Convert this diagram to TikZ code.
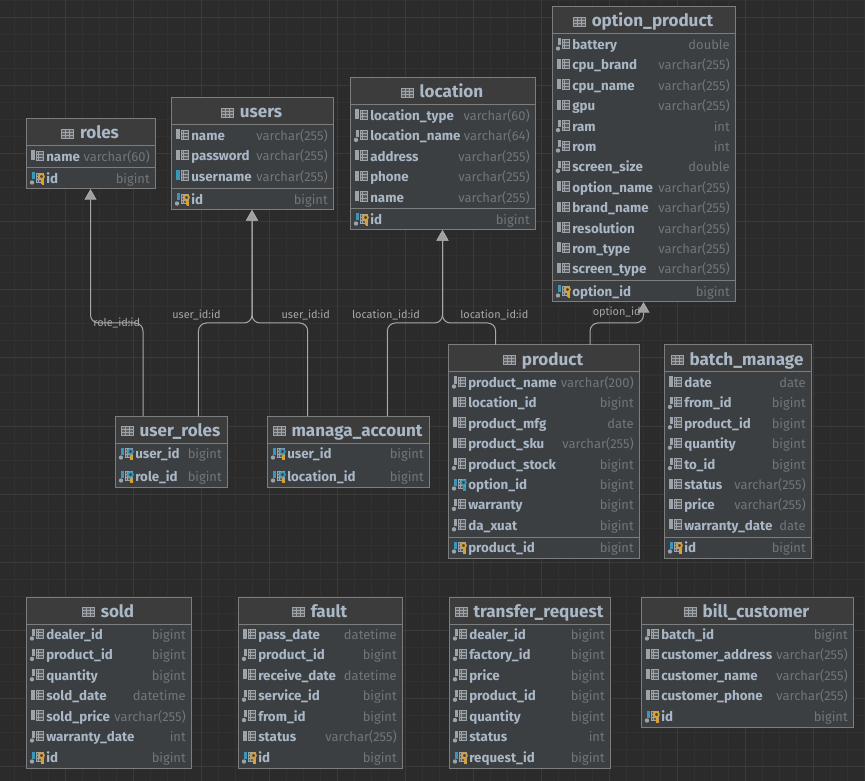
\documentclass[tikz,border=0pt]{standalone}
\usepackage{fontspec}
\setmainfont{Fira Sans}
\usetikzlibrary{arrows.meta, positioning}
\definecolor{canvasbg}{HTML}{2B2B2B}
\definecolor{gridminor}{HTML}{313131}
\definecolor{gridmajor}{HTML}{3A3A3A}
\definecolor{headbg}{HTML}{3C3C3C}
\definecolor{bodybg}{HTML}{3C3F41}
\definecolor{edgegrey}{HTML}{7D7D7D}
\definecolor{namecol}{HTML}{A9B7C6}
\definecolor{typecol}{HTML}{72767A}
\definecolor{iconcol}{HTML}{9DA3A8}
\definecolor{iconblue}{HTML}{3B97B8}
\definecolor{keygold}{HTML}{D9A033}
\definecolor{linkcol}{HTML}{A8A8A8}
\tikzstyle{tablebox} = [rectangle, anchor=north west, inner sep=0pt, outer sep=0pt, line width=0.75pt, draw=edgegrey, fill=bodybg]
\tikzstyle{headbox} = [line width=0.75pt, draw=edgegrey, fill=headbg]
\tikzstyle{rowline} = [line width=0.75pt, draw=edgegrey]
\tikzstyle{noline} = [draw=none]
\tikzstyle{titletext} = [inner sep=0pt, text=namecol, font=\fontsize{12.8pt}{15pt}\selectfont\bfseries]
\tikzstyle{coltext} = [inner sep=0pt, text=namecol, font=\fontsize{10pt}{12pt}\selectfont\bfseries]
\tikzstyle{typetext} = [inner sep=0pt, text=typecol, font=\fontsize{9.7pt}{12pt}\selectfont]
\tikzstyle{linktext} = [inner sep=2pt, text=linkcol, font=\fontsize{8.2pt}{10pt}\selectfont]
\tikzstyle{link} = [line width=0.75pt, draw=linkcol, rounded corners=6pt, -{Triangle[width=9pt,length=8pt,fill=linkcol!110!white]}]
% Column icons, drawn around the middle of their row
\newcommand{\iconcells}{%
  \draw[iconcol, line width=0.7pt, fill=iconcol!30!bodybg] (5,-5.5) rectangle (12.5,4);
  \draw[iconcol, line width=0.7pt] (5,-2.3) -- (12.5,-2.3) (5,0.9) -- (12.5,0.9) (7.5,-5.5) -- (7.5,4);
}
\newcommand{\icona}{\iconcells\fill[iconcol] (0,-6) rectangle (3.8,4);}
\newcommand{\iconu}{\iconcells\fill[iconblue] (0,-6) rectangle (3.8,4);}
\newcommand{\iconn}{\iconcells\fill[iconcol] (0.5,-6) rectangle (3.8,1);\fill[iconcol] (1,4) circle (2.2);}
\newcommand{\iconkey}[2]{%
  \draw[#2, line width=1.5pt] (10.5,-1) -- (10.5,6) (10.5,3) -- (13,3) (10.5,5.5) -- (13,5.5);
  \draw[#1, line width=1.3pt, fill=bodybg] (10.5,-2) circle (2.4);
}
\newcommand{\iconk}{\iconcells\fill[iconblue] (0.5,-6) rectangle (3.8,1);\fill[iconcol] (1,4) circle (2.2);\iconkey{keygold}{keygold}}
\newcommand{\iconf}{\iconcells\fill[iconblue] (0.5,-6) rectangle (3.8,1);\fill[iconcol] (1,4) circle (2.2);\iconkey{iconblue}{iconblue}}
\newcommand{\iconm}{\iconcells\fill[iconblue] (0.5,-6) rectangle (3.8,1);\fill[iconcol] (1,4) circle (2.2);\iconkey{iconblue}{keygold}}
% table, row number, row offset, kind, column, type
\newcommand{\errow}[6]{%
  \begin{scope}[shift={([shift={(5,#3)}]#1.north west)}]
    \csname icon#4\endcsname
  \end{scope}
  \node[coltext, anchor=base west] (#1-#2-col) at ([shift={(20,{#3+5})}]#1.north west) {#5};
  \node[typetext, anchor=base east] (#1-#2-type) at ([shift={(-5,{#3+5})}]#1.north east) {#6};
}
% [line above last row], name, placement, width, height, title, rows, last row
\newcommand{\ertable}[8][rowline]{%
  \node[tablebox, minimum width={#4*0.75pt}, minimum height={#5*0.75pt}, #3] (#2) {};
  \draw[headbox] (#2.north west) rectangle ([shift={(0,27)}]#2.north east);
  \draw[#1] ([shift={(0,{#5-21})}]#2.north west) -- ([shift={(0,{#5-21})}]#2.north east);
  \node[titletext, anchor=base] (#2-title) at ([shift={({#4/2+9},20)}]#2.north west) {#6};
  \draw[iconcol, line width=0.6pt, fill=iconcol!35!headbg] ([shift={(-18,-10)}]#2-title.base west) rectangle ([shift={(-6,-1)}]#2-title.base west);
  \draw[iconcol, line width=0.5pt] ([shift={(-18,-7)}]#2-title.base west) -- ([shift={(-6,-7)}]#2-title.base west)
    ([shift={(-18,-4)}]#2-title.base west) -- ([shift={(-6,-4)}]#2-title.base west)
    ([shift={(-14,-10)}]#2-title.base west) -- ([shift={(-14,-1)}]#2-title.base west)
    ([shift={(-10,-10)}]#2-title.base west) -- ([shift={(-10,-1)}]#2-title.base west);
  \foreach \kind/\col/\typ [count=\i] in {#7} {
    \pgfmathsetmacro{\rowy}{37.5+20.4*(\i-1)}
    \errow{#2}{\i}{\rowy}{\kind}{\col}{\typ}
  }
  \foreach \kind/\col/\typ in {#8} {
    \pgfmathsetmacro{\rowy}{#5-10.5}
    \errow{#2}{last}{\rowy}{\kind}{\col}{\typ}
  }
}
\begin{document}
\begin{tikzpicture}[x=0.75pt, y=-0.75pt]
        \useasboundingbox (0,0) rectangle (865,781);
        \fill[canvasbg] (0,0) rectangle (865,781);
        \foreach \i in {1,...,51} {
            \draw[gridminor, line width=0.75pt] ({-3+17*\i},0) -- ({-3+17*\i},781);
        }
        \foreach \i in {0,...,45} {
            \draw[gridminor, line width=0.75pt] (0,{1+17*\i}) -- (865,{1+17*\i});
        }
        \foreach \i in {1,...,12} {
            \draw[gridmajor, line width=0.75pt] ({-3+68*\i},0) -- ({-3+68*\i},781);
        }
        \foreach \i in {0,...,11} {
            \draw[gridmajor, line width=0.75pt] (0,{18+68*\i}) -- (865,{18+68*\i});
        }

        % Nodes
        \ertable{roles}{at={(26,119)}}{129}{70}{roles}{a/name/varchar(60)}{k/id/bigint}
        \ertable{users}{at={(171,98)}}{162}{112}{users}{a/name/varchar(255), a/password/varchar(255), u/username/varchar(255)}{k/id/bigint}
        \ertable{location}{at={(350,78)}}{185}{152}{location}{a/location\_type/varchar(60), n/location\_name/varchar(64), a/address/varchar(255), a/phone/varchar(255), a/name/varchar(255)}{k/id/bigint}
        \ertable{option_product}{at={(552,7)}}{183}{295}{option\_product}{n/battery/double, a/cpu\_brand/varchar(255), a/cpu\_name/varchar(255), a/gpu/varchar(255), n/ram/int, n/rom/int, n/screen\_size/double, a/option\_name/varchar(255), a/brand\_name/varchar(255), a/resolution/varchar(255), a/rom\_type/varchar(255), a/screen\_type/varchar(255)}{k/option\_id/bigint}
        \ertable{product}{at={(448,345)}}{191}{213}{product}{n/product\_name/varchar(200), a/location\_id/bigint, a/product\_mfg/date, a/product\_sku/varchar(255), n/product\_stock/bigint, f/option\_id/bigint, n/warranty/bigint, n/da\_xuat/bigint}{k/product\_id/bigint}
        \ertable{batch_manage}{right=18.75pt of product}{147}{213}{batch\_manage}{a/date/date, n/from\_id/bigint, n/product\_id/bigint, n/quantity/bigint, n/to\_id/bigint, a/status/varchar(255), a/price/varchar(255), a/warranty\_date/date}{k/id/bigint}
        \ertable[noline]{user_roles}{at={(115,416)}}{112}{71}{user\_roles}{m/user\_id/bigint}{m/role\_id/bigint}
        \ertable[noline]{managa_account}{right=30pt of user_roles}{162}{71}{managa\_account}{m/user\_id/bigint}{m/location\_id/bigint}
        \ertable[noline]{sold}{at={(26,597)}}{165}{171}{sold}{n/dealer\_id/bigint, n/product\_id/bigint, n/quantity/bigint, a/sold\_date/datetime, a/sold\_price/varchar(255), n/warranty\_date/int}{k/id/bigint}
        \ertable[noline]{fault}{right=35.25pt of sold}{164}{171}{fault}{a/pass\_date/datetime, n/product\_id/bigint, a/receive\_date/datetime, n/service\_id/bigint, n/from\_id/bigint, a/status/varchar(255)}{k/id/bigint}
        \ertable[noline]{transfer_request}{right=35.25pt of fault}{161}{171}{transfer\_request}{n/dealer\_id/bigint, n/factory\_id/bigint, n/price/bigint, n/product\_id/bigint, n/quantity/bigint, n/status/int}{k/request\_id/bigint}
        \ertable[noline]{bill_customer}{at={(641,597)}}{212}{130}{bill\_customer}{n/batch\_id/bigint, a/customer\_address/varchar(255), a/customer\_name/varchar(255), a/customer\_phone/varchar(255)}{k/id/bigint}

        % Arrows
        \coordinate (bus) at (0,323);
        \coordinate (ur-role) at ([xshift=-21pt]user_roles.north);
        \coordinate (ur-user) at ([xshift=20.6pt]user_roles.north);
        \coordinate (ma-user) at ([xshift=-30.2pt]managa_account.north);
        \coordinate (ma-location) at ([xshift=29.5pt]managa_account.north);
        \coordinate (pr-location) at ([xshift=-35.9pt]product.north);
        \coordinate (pr-option) at ([xshift=34.9pt]product.north);
        \draw [link] (ur-role) -- (ur-role |- bus) -- (roles.south |- bus) node[midway, linktext] (role-label) {role\_id:id} -- (roles.south);
        \draw [link] (ur-user) -- (ur-user |- bus) -- (users.south |- bus) node[pos=0, above, linktext, xshift=-1.5pt] (user-label) {user\_id:id} -- (users.south);
        \draw [link] (ma-user) -- (ma-user |- bus) -- (users.south |- bus) node[pos=0, above, linktext, xshift=-1.5pt] (account-label) {user\_id:id} -- (users.south);
        \draw [link] (ma-location) -- (ma-location |- bus) -- (location.south |- bus) node[pos=0, above, linktext, xshift=-1pt] (account-location-label) {location\_id:id} -- (location.south);
        \draw [link] (pr-location) -- (pr-location |- bus) -- (location.south |- bus) node[pos=0, above, linktext, xshift=-1pt] (product-location-label) {location\_id:id} -- (location.south);
        \draw [link] (pr-option) -- (pr-option |- bus) -- (option_product.south |- bus) node[midway, above, linktext, yshift=1.5pt] (option-label) {option\_id} -- (option_product.south);
    \end{tikzpicture}
\end{document}
